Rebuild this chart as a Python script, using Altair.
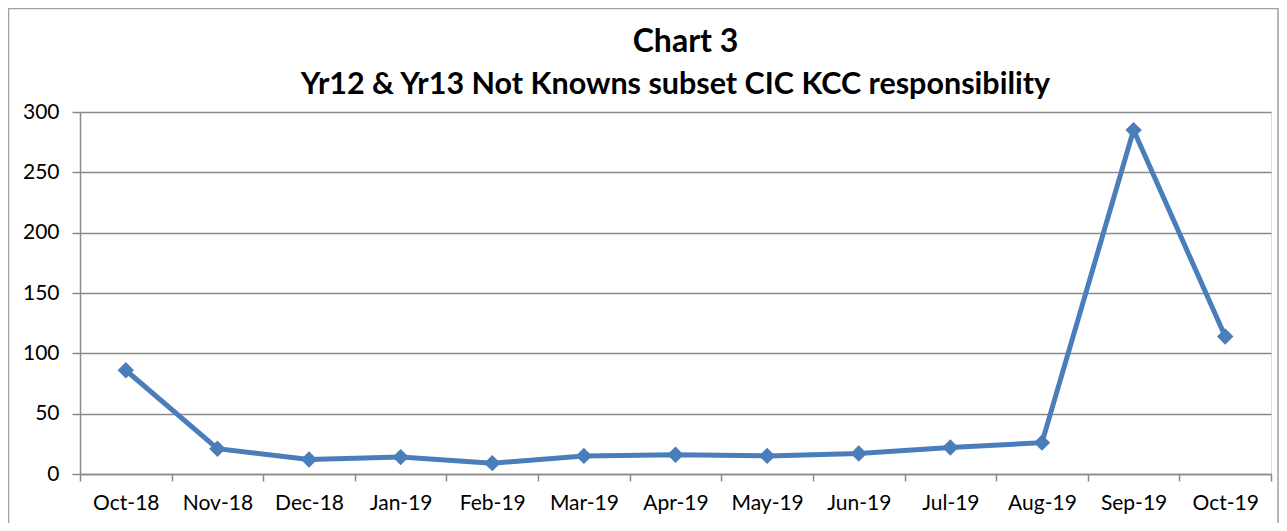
import altair as alt
import pandas as pd

months = ["Oct-18", "Nov-18", "Dec-18", "Jan-19", "Feb-19", "Mar-19", "Apr-19",
          "May-19", "Jun-19", "Jul-19", "Aug-19", "Sep-19", "Oct-19"]
values = [86, 21, 12, 14, 9, 15, 16, 15, 17, 22, 26, 285, 114]
y_ticks = [0, 50, 100, 150, 200, 250, 300]
title_lines = ["Chart 3", "Yr12 & Yr13 Not Knowns subset CIC KCC responsibility"]

df = pd.DataFrame({"month": months, "value": values})

W, H = 1191, 362
FONT = "Lato"
GRAY = "#8a8a8a"
BLUE = "#4a7ebb"

x_enc = alt.X("month:N", sort=months, title=None,
              scale=alt.Scale(type="band", paddingInner=0, paddingOuter=0),
              axis=alt.Axis(tickBand="extent", grid=False, domainColor=GRAY, tickColor=GRAY,
                            tickSize=7, tickWidth=1.5, domainWidth=1.5, labelAngle=0,
                            labelFont=FONT, labelFontSize=21, labelColor="black",
                            labelPadding=11))
y_enc = alt.Y("value:Q", title=None,
              scale=alt.Scale(domain=[0, 300], nice=False),
              axis=alt.Axis(values=y_ticks, grid=True, gridColor=GRAY, gridWidth=1.5,
                            domainColor=GRAY, domainWidth=1.5, tickColor=GRAY, tickSize=8,
                            tickWidth=1.5, labelFont=FONT, labelFontSize=21,
                            labelColor="black", labelPadding=13))

base = alt.Chart(df)
line = base.mark_line(color=BLUE, strokeWidth=5).encode(x=x_enc, y=y_enc)
pts = base.mark_point(shape="diamond", filled=True, size=270, color=BLUE, opacity=1).encode(x=x_enc, y=y_enc)

border = alt.Chart(pd.DataFrame({"a": [0]})).mark_rect(
    fill=None, stroke="#a0a0a0", strokeWidth=1.5, clip=False
).encode(x=alt.value(-71.5), x2=alt.value(W + 7), y=alt.value(-103.5), y2=alt.value(H + 60))

title1 = alt.Chart(pd.DataFrame({"t": [title_lines[0]]})).mark_text(
    font=FONT, fontSize=32, fontWeight="bold", color="black", baseline="middle", align="center"
).encode(text="t:N", x=alt.value(W / 2 + 10), y=alt.value(-70))
title2 = alt.Chart(pd.DataFrame({"t": [title_lines[1]]})).mark_text(
    font=FONT, fontSize=30.5, fontWeight="bold", color="black", baseline="middle", align="center"
).encode(text="t:N", x=alt.value(W / 2), y=alt.value(-27))

chart = alt.layer(border, line, pts, title1, title2).properties(
    width=W, height=H,
    padding={"left": 72, "top": 104, "right": 8, "bottom": 49},
    autosize=alt.AutoSizeParams(type="none"),
).configure_view(stroke=None).configure(background="white")

chart.save("out.html", embed_options={"renderer": "svg", "actions": False})
